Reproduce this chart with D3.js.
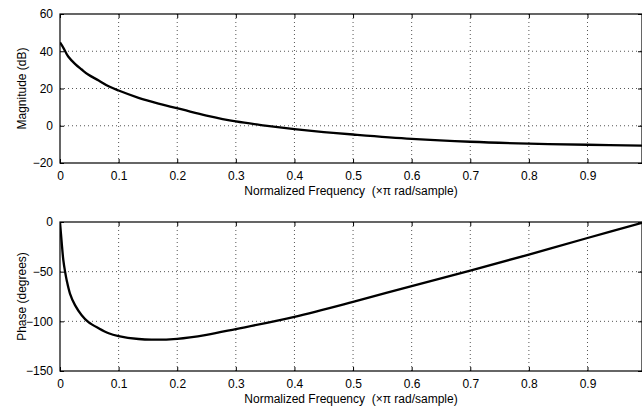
<!DOCTYPE html>
<html>
<head>
<meta charset="utf-8">
<script src="https://cdn.jsdelivr.net/npm/d3@7"></script>
<style>
  body { margin: 0; background: #fff; }
  svg { display: block; }
  text { font-family: "Liberation Sans", Arial, sans-serif; fill: #000; }
</style>
</head>
<body>
<div id="chart"></div>
<script>
// frequency axis (x pi rad/sample)
const xTicks = [0, 0.1, 0.2, 0.3, 0.4, 0.5, 0.6, 0.7, 0.8, 0.9];

// magnitude response
const magFreq = [0, 0.006, 0.014, 0.026, 0.037, 0.048, 0.066, 0.083, 0.1, 0.134, 0.168, 0.21, 0.25, 0.3, 0.35, 0.4, 0.45, 0.5, 0.6, 0.7, 0.8, 0.9, 0.993];
const magDb = [44.7, 41.7, 37.2, 33.1, 30.2, 27.5, 24.3, 21.2, 18.9, 15.0, 11.9, 8.6, 5.5, 2.3, 0.1, -1.8, -3.4, -4.7, -7.0, -8.6, -9.6, -10.2, -10.7];
const magTicks = [-20, 0, 20, 40, 60];

// phase response
const phaseFreq = [0, 0.0028, 0.0057, 0.0085, 0.0114, 0.017, 0.0256, 0.037, 0.048, 0.066, 0.083, 0.1, 0.134, 0.156, 0.2, 0.25, 0.3, 0.4, 0.5, 0.6, 0.7, 0.8, 0.9, 0.993];
const phaseDeg = [0, -20, -38.5, -49.5, -58.6, -72, -83.7, -93.8, -100.5, -107, -112, -114.8, -117.8, -118.5, -117.6, -113.6, -107.8, -95.4, -80.4, -64.5, -49, -32.8, -16.1, -0.8];
const phaseTicks = [-150, -100, -50, 0];

const W = 642, H = 408;
const svg = d3.select("#chart").append("svg")
  .attr("width", W)
  .attr("height", H);

const FS = 12;

function panel(opts) {
  const { top, bottom, yDomain, yTicks, yLabel, xs, ys, id } = opts;
  const left = 60, right = 642;

  const x = d3.scaleLinear().domain([0, 0.993]).range([left, right]);
  const y = d3.scaleLinear().domain(yDomain).range([bottom, top]);

  const g = svg.append("g");

  // grid (dotted)
  g.append("g").selectAll("line")
    .data(xTicks.slice(1))
    .enter().append("line")
    .attr("x1", d => x(d)).attr("x2", d => x(d))
    .attr("y1", top).attr("y2", bottom)
    .attr("stroke", "#555").attr("stroke-width", 1)
    .attr("stroke-dasharray", "1,3");
  g.append("g").selectAll("line")
    .data(yTicks.slice(1, -1))
    .enter().append("line")
    .attr("x1", left).attr("x2", right)
    .attr("y1", d => y(d)).attr("y2", d => y(d))
    .attr("stroke", "#555").attr("stroke-width", 1)
    .attr("stroke-dasharray", "1,3");

  // axes with inward ticks
  const xb = g.append("g").attr("transform", `translate(0,${bottom})`)
    .call(d3.axisBottom(x).tickValues(xTicks).tickSizeInner(-4).tickSizeOuter(0).tickPadding(8)
      .tickFormat(d => d === 0 ? "0" : d3.format(".1f")(d)));
  const xt = g.append("g").attr("transform", `translate(0,${top})`)
    .call(d3.axisTop(x).tickValues(xTicks).tickSizeInner(-4).tickSizeOuter(0).tickFormat(""));
  const yl = g.append("g").attr("transform", `translate(${left},0)`)
    .call(d3.axisLeft(y).tickValues(yTicks).tickSizeInner(-4).tickSizeOuter(0).tickPadding(7));
  const yr = g.append("g").attr("transform", `translate(${right},0)`)
    .call(d3.axisRight(y).tickValues(yTicks).tickSizeInner(-4).tickSizeOuter(0).tickFormat(""));

  [xb, xt, yl, yr].forEach(a => {
    a.select(".domain").remove();
    a.selectAll("line").attr("stroke", "#000");
    a.selectAll("text").attr("font-size", FS).attr("font-family", "Liberation Sans, Arial, sans-serif");
  });

  // frame
  g.append("rect")
    .attr("x", left).attr("y", top)
    .attr("width", right - left).attr("height", bottom - top)
    .attr("fill", "none").attr("stroke", "#000").attr("stroke-width", 1.2);

  // clip + curve
  svg.append("clipPath").attr("id", id)
    .append("rect").attr("x", left).attr("y", top - 1)
    .attr("width", right - left + 1).attr("height", bottom - top + 2);

  const pts = xs.map((f, i) => [f, ys[i]]);
  g.append("path")
    .datum(pts)
    .attr("clip-path", `url(#${id})`)
    .attr("fill", "none")
    .attr("stroke", "#000")
    .attr("stroke-width", 2.3)
    .attr("stroke-linejoin", "round")
    .attr("d", d3.line().x(d => x(d[0])).y(d => y(d[1])).curve(d3.curveCatmullRom.alpha(0.5)));

  // labels
  g.append("text")
    .attr("x", (left + right) / 2)
    .attr("y", bottom + 32)
    .attr("text-anchor", "middle")
    .attr("font-size", FS)
    .style("white-space", "pre")
    .text("Normalized Frequency  (\u00d7\u03c0 rad/sample)");

  g.append("text")
    .attr("transform", `translate(22,${(top + bottom) / 2}) rotate(-90)`)
    .attr("text-anchor", "middle")
    .attr("dy", "0.35em")
    .attr("font-size", FS)
    .text(yLabel);
}

panel({ top: 14, bottom: 163, yDomain: [-20, 60], yTicks: magTicks,
  yLabel: "Magnitude (dB)", xs: magFreq, ys: magDb, id: "clipMag" });
panel({ top: 222, bottom: 371, yDomain: [-150, 0], yTicks: phaseTicks,
  yLabel: "Phase (degrees)", xs: phaseFreq, ys: phaseDeg, id: "clipPhase" });
</script>
</body>
</html>
